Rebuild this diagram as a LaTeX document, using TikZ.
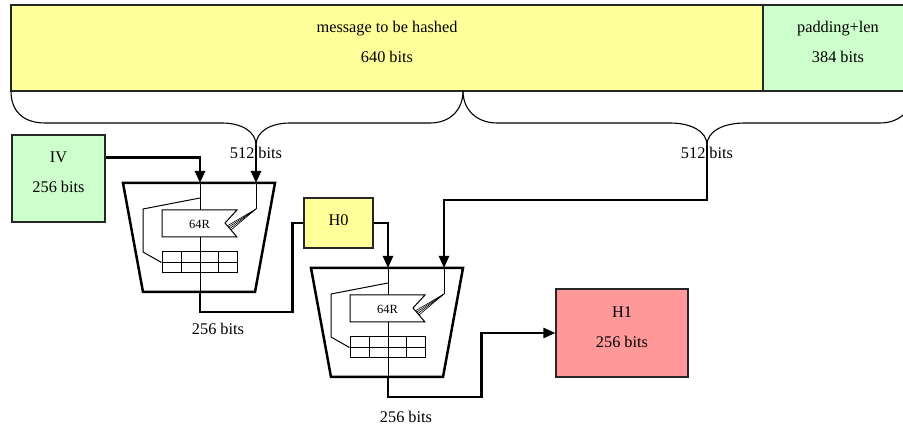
\documentclass[tikz,border=0pt]{standalone}
\usepackage{fontspec}
\setmainfont{Liberation Serif}
\usetikzlibrary{arrows.meta}

\definecolor{msgyellow}{HTML}{FFFF99}
\definecolor{padgreen}{HTML}{CCFFCC}
\definecolor{outred}{HTML}{FF9999}

\begin{document}
\begin{tikzpicture}[x=1pt, y=-1pt,
    every node/.style={inner sep=1pt, font=\fontsize{16.3}{30}\selectfont},
    block/.style={draw=black!85, line width=1.2pt, inner sep=0pt},
    bus/.style={line width=2.5pt},
    feed/.style={-{Triangle[length=12pt,width=10pt]}},
    wire/.style={line width=1pt},
    brace/.style={line width=1.1pt}]
		\clip (0,0) rectangle (903,427);

		% Message blocks
		\node[block, fill=msgyellow, minimum width=752pt, minimum height=86pt,
		      label={[yshift=6pt, align=center]center:message to be hashed\\640 bits}] (msg) at (387,48) {};
		\node[block, fill=padgreen, minimum width=150pt, minimum height=86pt,
		      label={[yshift=6pt, align=center]center:padding+len\\384 bits}] (pad) at (838,48) {};

		% Braces splitting into two 512-bit blocks
		\coordinate (tip1) at (256,145);
		\coordinate (tip2) at (707,145);
		\draw[brace] (11,91) .. controls (11,112) and (24,123) .. (45,123) -- (222,123)
		             .. controls (242,123) and (256,132) .. (tip1);
		\draw[brace] (tip1) .. controls (256,132) and (270,123) .. (290,123) -- (430,123)
		             .. controls (450,123) and (463,110) .. (463,91);
		\draw[brace] (463,91) .. controls (463,110) and (477,123) .. (497,123) -- (670,123)
		             .. controls (692,123) and (707,132) .. (tip2);
		\draw[brace] (tip2) .. controls (707,132) and (722,123) .. (745,123) -- (880,123)
		             .. controls (900,123) and (913,110) .. (913,91);

		% Chaining values
		\node[block, fill=padgreen, minimum width=93pt, minimum height=87pt,
		      label={[yshift=6pt, align=center]center:IV\\256 bits}] (iv) at (58.5,178.5) {};
		\node[block, fill=msgyellow, minimum width=69pt, minimum height=50pt,
		      label={[yshift=3pt]center:H0}] (h0) at (338.5,223) {};
		\node[block, fill=outred, minimum width=132pt, minimum height=88pt,
		      label={[yshift=6pt, align=center]center:H1\\256 bits}] (h1) at (622,333) {};

		% Compression function, drawn twice
		\foreach \n/\dx/\dy in {1/0/0, 2/188/85} {
		  \begin{scope}[shift={(\dx,\dy)}]
		    \coordinate (top\n) at (200,183);
		    \coordinate (key\n) at (256,183);
		    \coordinate (out\n) at (200,292);
		    \draw[bus] (123,183) -- (275,183) -- (255,292) -- (143,292) -- cycle;
		    \draw[wire] (top\n) -- (out\n);
		    % state register
		    \node[draw, wire, inner sep=0pt, minimum width=75pt, minimum height=21pt] (reg\n) at (199.5,262.5) {};
		    \draw[wire] (reg\n.west) -- (reg\n.east) (181,252) -- (181,273) (218,252) -- (218,273);
		    \draw[wire] (200,198) -- (143,209) -- (143,252) -- (reg\n.west);
		    % rounds
		    \draw[wire, fill=white] (162,210) -- (237,210) -- (225,223) -- (237,237) -- (162,237) -- cycle;
		    \node[font=\fontsize{12.5}{14}\selectfont] (rnd\n) at (199.5,224) {64R};
		    % message schedule fan
		    \draw[wire] (key\n) -- (256,209);
		    \foreach \fx/\fy in {227.4/225.8, 228.6/227.2, 229.8/228.6, 231/230}
		      \draw[line width=0.6pt] (256,209) -- (\fx,\fy);
		  \end{scope}
		}

		% Labels
		\node (blk1) at (256,153) {512 bits};
		\node (blk2) at (707,153) {512 bits};
		\node (len1) at (218,329) {256 bits};
		\node (len2) at (406,417) {256 bits};

		% Data flow
		\coordinate (bend2) at (444,200);
		\draw[bus, feed] ([yshift=21pt]iv.east) -| (top1);
		\draw[bus, feed] (tip1) -- (key1);
		\draw[bus, feed] (tip2) |- (bend2) -- (key2);
		\draw[bus] (out1) -- ++(0,20) -| ([xshift=-11pt]h0.west) -- (h0.west);
		\draw[bus, feed] (h0.east) -| (top2);
		\draw[bus, feed] (out2) -- ++(0,20) -| ([xshift=-74pt]h1.west) -- (h1.west);
	\end{tikzpicture}
\end{document}
